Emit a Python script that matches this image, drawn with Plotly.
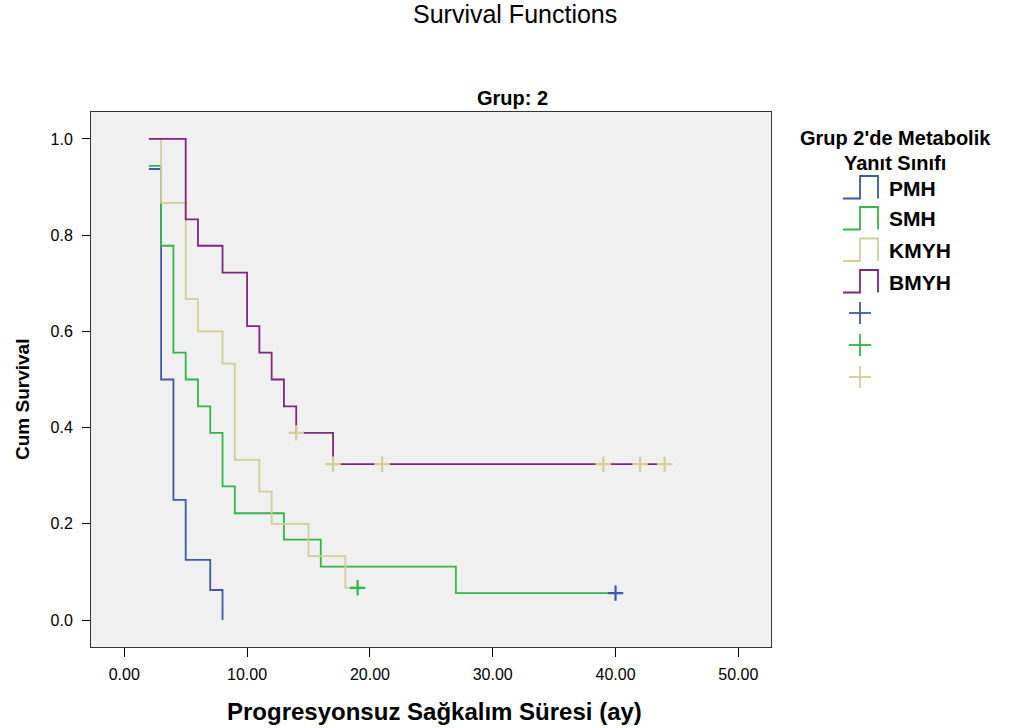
import plotly.graph_objects as go

# ---- data ----
groups = ["PMH", "SMH", "KMYH", "BMYH"]
colors = {"PMH": "#3E58AC", "SMH": "#2EB848", "KMYH": "#D3CE97", "BMYH": "#7C287D"}

pmh_t = [2, 3, 4, 5, 7, 8]
pmh_s = [0.9375, 0.5, 0.25, 0.125, 0.0625, 0.0]

smh_t = [2, 3, 4, 5, 6, 7, 8, 9, 13, 16, 27, 40]
smh_s = [0.944, 0.778, 0.556, 0.5, 0.444, 0.389, 0.278, 0.222, 0.167, 0.111, 0.056, 0.056]
smh_cens_t = [40]
smh_cens_s = [0.056]

kmyh_t = [2, 3, 5, 6, 8, 9, 11, 12, 15, 18, 19]
kmyh_s = [1.0, 0.867, 0.667, 0.6, 0.533, 0.333, 0.267, 0.2, 0.133, 0.067, 0.067]
kmyh_cens_t = [19]
kmyh_cens_s = [0.067]

bmyh_t = [2, 5, 6, 8, 10, 11, 12, 13, 14, 17, 44]
bmyh_s = [1.0, 0.833, 0.778, 0.722, 0.611, 0.556, 0.5, 0.444, 0.389, 0.324, 0.324]
bmyh_cens_t = [14, 17, 21, 39, 42, 44]
bmyh_cens_s = [0.389, 0.324, 0.324, 0.324, 0.324, 0.324]

x_ticks = [0, 10, 20, 30, 40, 50]
y_ticks = [0.0, 0.2, 0.4, 0.6, 0.8, 1.0]

FONT = "Liberation Sans, Arial, sans-serif"
W, H = 1012, 728
L, R, T, B = 91, 771, 112, 647

fig = go.Figure()

curves = [("PMH", pmh_t, pmh_s), ("SMH", smh_t, smh_s),
          ("KMYH", kmyh_t, kmyh_s), ("BMYH", bmyh_t, bmyh_s)]
for name, t, s in curves:
    fig.add_trace(go.Scatter(x=t, y=s, mode="lines", line_shape="hv",
                             line=dict(color=colors[name], width=1.8),
                             name=name, showlegend=False, hoverinfo="skip"))

# censor markers (SPSS colours them in censor-series order)
cens = [(smh_cens_t, smh_cens_s, colors["PMH"]),
        (kmyh_cens_t, kmyh_cens_s, colors["SMH"]),
        (bmyh_cens_t, bmyh_cens_s, colors["KMYH"])]
for t, s, c in cens:
    fig.add_trace(go.Scatter(x=t, y=s, mode="markers",
                             marker=dict(symbol="cross-thin", size=11,
                                         line=dict(color=c, width=2.2)),
                             showlegend=False, hoverinfo="skip", cliponaxis=False))

def px(x):
    return (x - L) / (R - L)

def py(y):
    return (B - y) / (B - T)

shapes = []
annotations = []

# manual legend
annotations.append(dict(text="<b>Grup 2'de Metabolik</b>", x=px(895), y=py(138),
                        xref="paper", yref="paper", showarrow=False,
                        font=dict(family=FONT, size=20, color="black"),
                        xanchor="center", yanchor="middle"))
annotations.append(dict(text="<b>Yanıt Sınıfı</b>", x=px(895), y=py(163),
                        xref="paper", yref="paper", showarrow=False,
                        font=dict(family=FONT, size=20, color="black"),
                        xanchor="center", yanchor="middle"))
tops = [176, 207, 238.5, 270]
for name, top in zip(groups, tops):
    bot = top + 22.5
    path = (f"M {px(843)} {py(bot)} L {px(860)} {py(bot)} L {px(860)} {py(top)} "
            f"L {px(878)} {py(top)} L {px(878)} {py(bot)}")
    shapes.append(dict(type="path", path=path, xref="paper", yref="paper",
                       line=dict(color=colors[name], width=1.8)))
    annotations.append(dict(text=f"<b>{name}</b>", x=px(887), y=py(top + 12),
                            xref="paper", yref="paper", showarrow=False,
                            font=dict(family=FONT, size=21, color="black"),
                            xanchor="left", yanchor="middle"))
for cy, c in zip([313, 345, 377], [colors["PMH"], colors["SMH"], colors["KMYH"]]):
    shapes.append(dict(type="line", xref="paper", yref="paper",
                       x0=px(849), x1=px(871), y0=py(cy), y1=py(cy),
                       line=dict(color=c, width=1.8)))
    shapes.append(dict(type="line", xref="paper", yref="paper",
                       x0=px(860), x1=px(860), y0=py(cy - 11), y1=py(cy + 11),
                       line=dict(color=c, width=1.8)))

# titles
annotations.append(dict(text="Survival Functions", x=px(515), y=py(14),
                        xref="paper", yref="paper", showarrow=False,
                        font=dict(family=FONT, size=25, color="black"),
                        xanchor="center", yanchor="middle"))
annotations.append(dict(text="<b>Grup: 2</b>", x=px(512), y=py(98),
                        xref="paper", yref="paper", showarrow=False,
                        font=dict(family=FONT, size=20, color="black"),
                        xanchor="center", yanchor="middle"))
annotations.append(dict(text="<b>Progresyonsuz Sağkalım Süresi (ay)</b>", x=px(434), y=py(711),
                        xref="paper", yref="paper", showarrow=False,
                        font=dict(family=FONT, size=24, color="black"),
                        xanchor="center", yanchor="middle"))
annotations.append(dict(text="<b>Cum Survival</b>", x=px(22), y=py(400),
                        xref="paper", yref="paper", showarrow=False, textangle=-90,
                        font=dict(family=FONT, size=19, color="black"),
                        xanchor="center", yanchor="middle"))

fig.update_layout(
    width=W, height=H,
    margin=dict(l=L, r=W - R, t=T, b=H - B, pad=0),
    paper_bgcolor="white", plot_bgcolor="#F0F0F0",
    shapes=shapes, annotations=annotations,
    showlegend=False,
    font=dict(family=FONT, color="black"),
)
fig.update_xaxes(range=[-2.71, 52.66], tickvals=x_ticks,
                 ticktext=[f"{v:.2f}" for v in x_ticks],
                 ticks="outside", ticklen=9, tickwidth=1, tickcolor="black",
                 showline=True, linecolor="#333333", linewidth=1, mirror=True,
                 showgrid=False, zeroline=False, ticklabelstandoff=4,
                 tickfont=dict(family=FONT, size=16, color="black"))
fig.update_yaxes(range=[-0.056, 1.056], tickvals=y_ticks,
                 ticktext=[f"{v:.1f}" for v in y_ticks],
                 ticks="outside", ticklen=8, tickwidth=1, tickcolor="black",
                 showline=True, linecolor="#333333", linewidth=1, mirror=True,
                 showgrid=False, zeroline=False, ticklabelstandoff=6,
                 tickfont=dict(family=FONT, size=16, color="black"))

fig.write_html("out.html")
